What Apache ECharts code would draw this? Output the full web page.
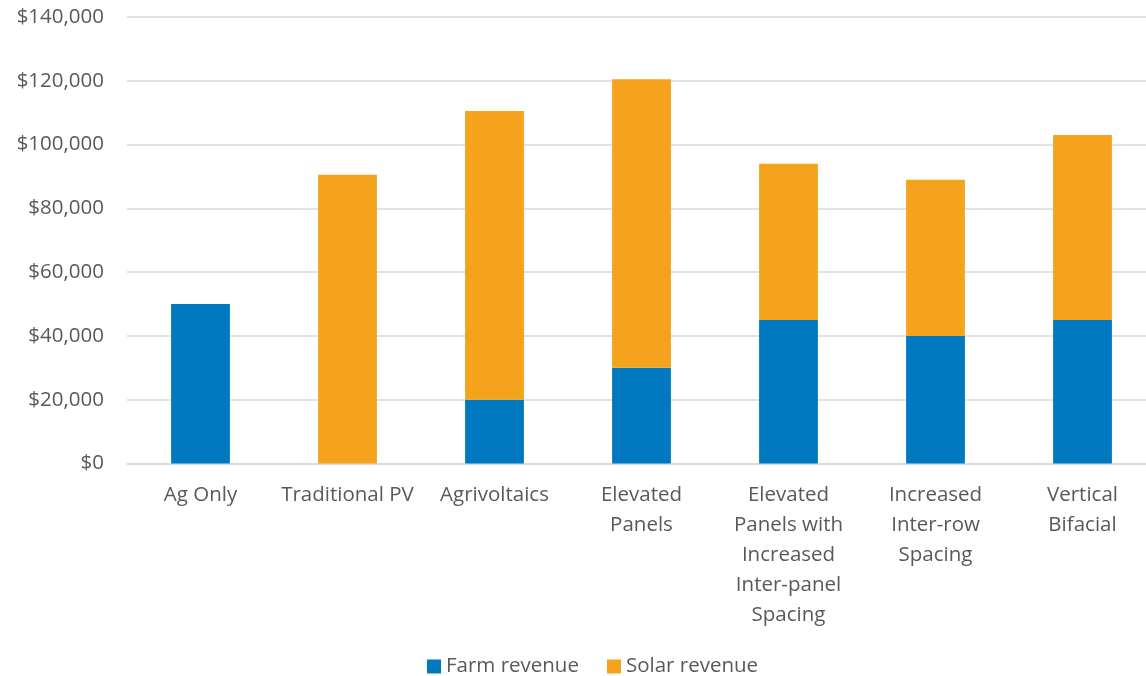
<!DOCTYPE html>
<html>
<head>
<meta charset="utf-8">
<script src="https://cdn.jsdelivr.net/npm/echarts@6/dist/echarts.min.js"></script>
<style>
  html, body { margin: 0; padding: 0; background: #fff; overflow: hidden; }
  /* the plot area runs a little past the window's right edge */
  #chart { width: 1156px; height: 676px; }
</style>
</head>
<body>
<div id="chart"></div>
<script>
// Revenue per scenario, stacked: farm revenue below, solar revenue on top
const categories = [
  'Ag Only',
  'Traditional PV',
  'Agrivoltaics',
  'Elevated\nPanels',
  'Elevated\nPanels with\nIncreased\nInter-panel\nSpacing',
  'Increased\nInter-row\nSpacing',
  'Vertical\nBifacial'
];
const farmRevenue  = [50000, 0, 20000, 30000, 45000, 40000, 45000];
const solarRevenue = [0, 90500, 90500, 90500, 49000, 49000, 58000];
const yTicks = { min: 0, max: 140000, interval: 20000 };

const FONT = '"Open Sans", "Liberation Sans", sans-serif';
const TEXT = '#595959';
const FS = 20.5;

const chart = echarts.init(document.getElementById('chart'), null, { renderer: 'canvas' });
chart.setOption({
  animation: false,
  textStyle: { fontFamily: FONT },
  grid: { left: 127, top: 17, right: 0, bottom: 212.5, containLabel: false },
  legend: {
    data: ['Farm revenue', 'Solar revenue'],
    left: 422, top: 651,
    icon: 'rect', itemWidth: 14, itemHeight: 14, itemGap: 28,
    textStyle: { color: TEXT, fontSize: FS, fontFamily: FONT }
  },
  xAxis: {
    type: 'category',
    data: categories,
    axisLine: { show: true, lineStyle: { color: '#d9d9d9', width: 1.5 } },
    axisTick: { show: false },
    axisLabel: {
      color: TEXT, fontSize: FS, fontFamily: FONT, lineHeight: 30,
      margin: 17, interval: 0
    }
  },
  yAxis: {
    type: 'value',
    min: yTicks.min, max: yTicks.max, interval: yTicks.interval,
    axisLine: { show: false },
    axisTick: { show: false },
    splitLine: { lineStyle: { color: '#d9d9d9', width: 1.5 } },
    axisLabel: {
      color: TEXT, fontSize: FS, fontFamily: FONT, margin: 23,
      formatter: v => '$' + v.toLocaleString('en-US')
    }
  },
  series: [
    {
      name: 'Farm revenue', type: 'bar', stack: 'rev', barWidth: '40%',
      itemStyle: { color: '#0179C1' },
      data: farmRevenue
    },
    {
      name: 'Solar revenue', type: 'bar', stack: 'rev', barWidth: '40%',
      itemStyle: { color: '#F5A21C' },
      data: solarRevenue
    }
  ]
});
</script>
</body>
</html>
